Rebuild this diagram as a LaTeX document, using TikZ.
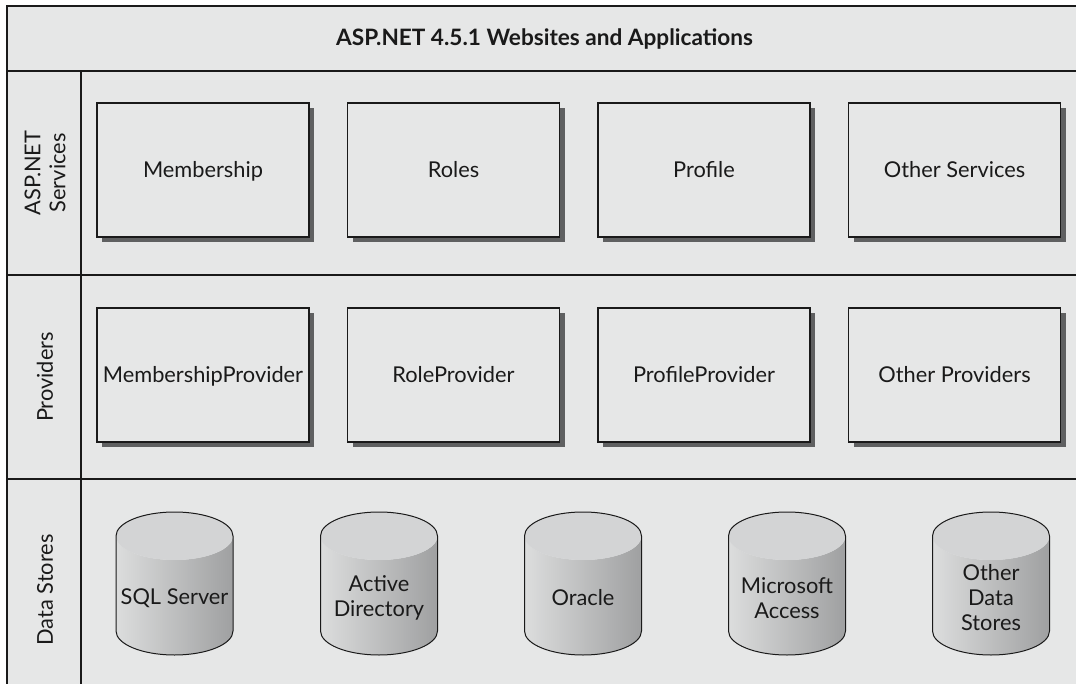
\documentclass[tikz,border=0pt]{standalone}
\usepackage{fontspec}
\setmainfont{Lato}
\usepackage{tikz}
\usetikzlibrary{shadows}
\definecolor{panelgray}{HTML}{E6E7E7}
\definecolor{shadowgray}{HTML}{5F6061}
\definecolor{capgray}{HTML}{D3D4D5}
\definecolor{sideleft}{HTML}{DCDDDD}
\definecolor{sidelight}{HTML}{ECEDED}
\definecolor{sidedark}{HTML}{9FA0A1}
\definecolor{inkblack}{HTML}{1A1A1A}

\begin{document}
\begin{tikzpicture}[x=1pt, y=-1pt,
    every node/.style={font=\fontsize{21.8}{25}\selectfont, text=inkblack},
    frameline/.style={draw=inkblack, line width=1.3pt},
    rowlabel/.style={rotate=90, align=center},
    partbox/.style={draw=inkblack, line width=1.3pt, fill=panelgray,
        minimum width=212pt, minimum height=134pt, inner sep=2pt,
        text height=16pt, text depth=1pt,
        drop shadow={shadow xshift=5pt, shadow yshift=-5pt, fill=shadowgray, opacity=1}}]
    \useasboundingbox (0,0) rectangle (1076,684);
    % background and grid of the layers
    \fill[panelgray] (7,6) rectangle (1076,684);
    \draw[frameline] (1076,6) -- (7,6) -- (7,684);
    \draw[frameline] (7,71) -- (1076,71);
    \draw[frameline] (7,275) -- (1076,275);
    \draw[frameline] (7,479) -- (1076,479);
    \draw[frameline] (81,71) -- (81,684);
    \node[font=\fontsize{22.6}{26}\selectfont\bfseries] (title) at (544.5,39) {ASP.NET 4.5.1 Websites and Applications};
    \node[rowlabel] (svclabel) at (45,173) {ASP.NET\\Services};
    \node[rowlabel] (provlabel) at (45,377) {Providers};
    \node[rowlabel] (storelabel) at (45,590) {Data Stores};
    % services
    \node[partbox] (member) at (203,170) {Membership};
    \node[partbox] (roles) at (453.5,170) {Roles};
    \node[partbox] (profile) at (704,170) {Profile};
    \node[partbox] (othersvc) at (954.5,170) {Other Services};
    % providers
    \node[partbox] (memberprov) at (203,375) {MembershipProvider};
    \node[partbox] (roleprov) at (453.5,375) {RoleProvider};
    \node[partbox] (profileprov) at (704,375) {ProfileProvider};
    \node[partbox] (otherprov) at (954.5,375) {Other Providers};
    % data stores
    \foreach \cx/\nm/\txt in {174.5/sql/{SQL Server}, 379/ad/{Active\\Directory},
        583/oracle/{Oracle}, 787/access/{Microsoft\\Access}, 991/otherstore/{Other\\Data\\Stores}} {
        \shade[left color=sideleft, middle color=sidelight, right color=sidedark]
            (\cx-58.5,536) -- (\cx-58.5,631) arc[start angle=180, end angle=0, x radius=58.5, y radius=24]
            -- (\cx+58.5,536) arc[start angle=0, end angle=180, x radius=58.5, y radius=24] -- cycle;
        \fill[capgray] (\cx,536) ellipse[x radius=58.5, y radius=24];
        \draw[inkblack, line width=1pt] (\cx-58.5,536) -- (\cx-58.5,631)
            arc[start angle=180, end angle=0, x radius=58.5, y radius=24]
            -- (\cx+58.5,536) arc[start angle=0, end angle=-180, x radius=58.5, y radius=24] -- cycle;
        \node[align=center] (\nm) at (\cx,598) {\txt};
    }
\end{tikzpicture}
\end{document}
